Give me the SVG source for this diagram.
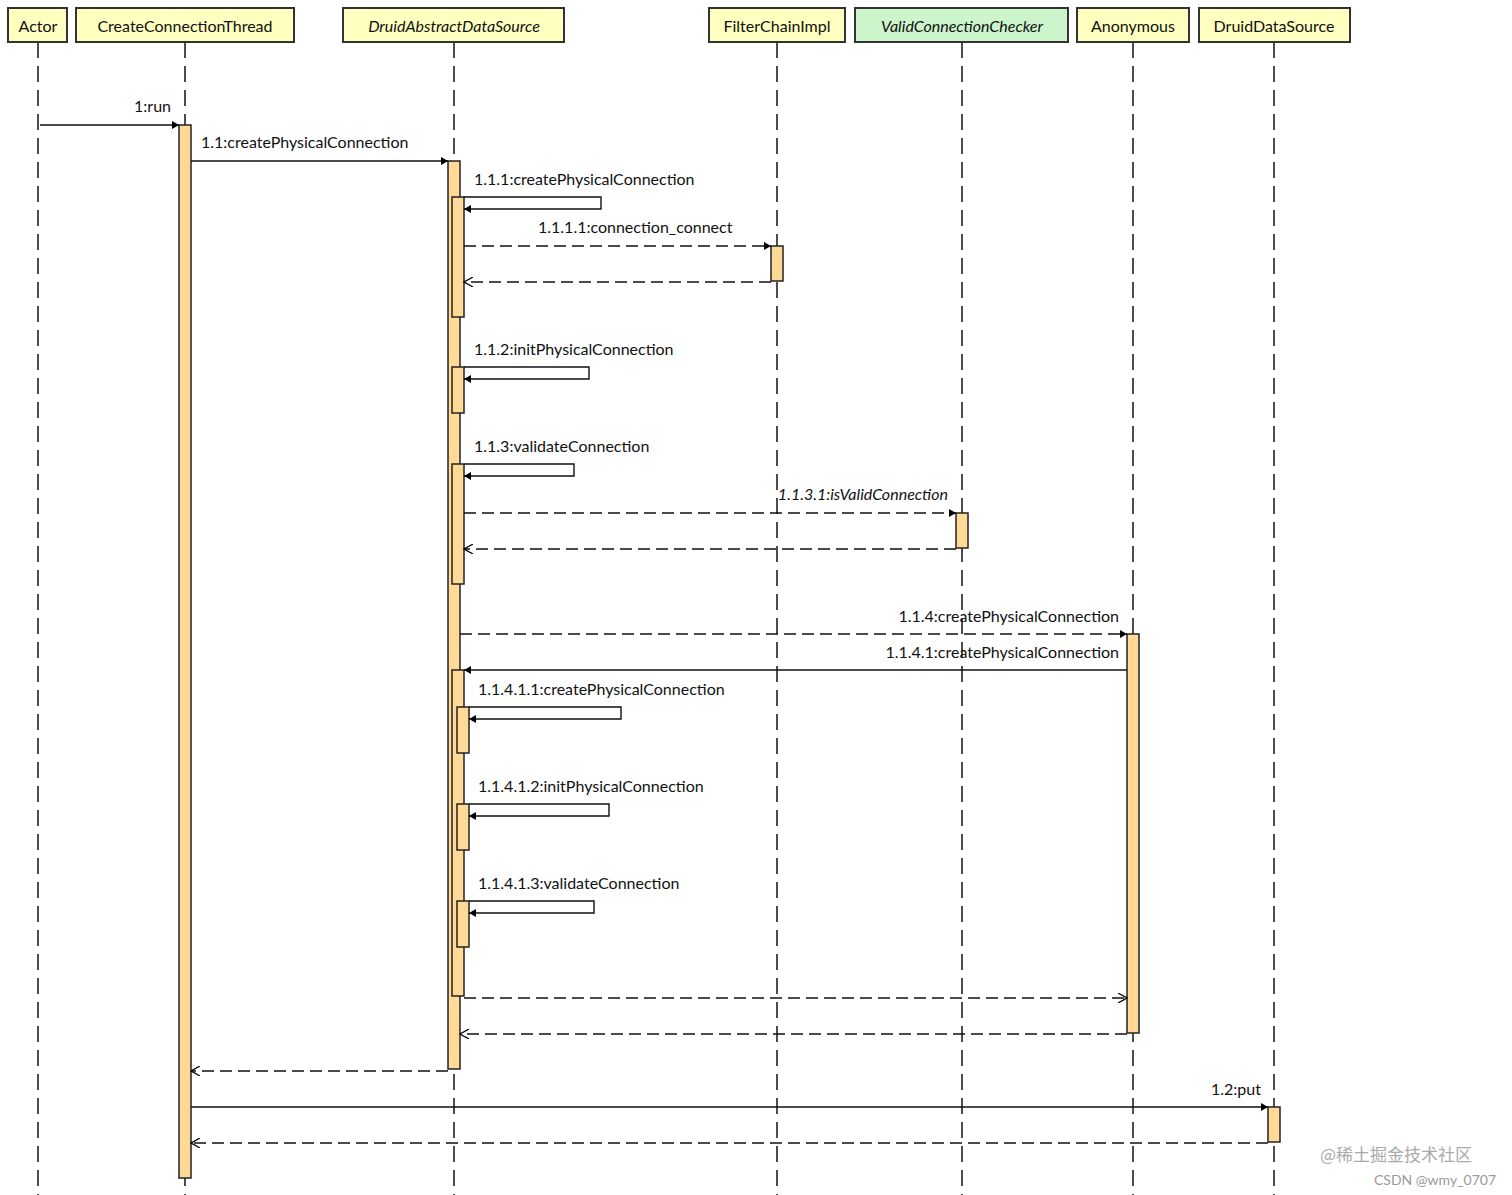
<svg xmlns="http://www.w3.org/2000/svg" width="1512" height="1195" viewBox="0 0 1512 1195">
<defs>
<marker id="f" markerWidth="8" markerHeight="8" refX="7" refY="4" orient="auto" markerUnits="userSpaceOnUse"><path d="M0,0 L7,4 L0,8 z" fill="#000"/></marker>
<marker id="o" markerWidth="10" markerHeight="10" refX="9" refY="5" orient="auto" markerUnits="userSpaceOnUse"><path d="M0,0 L9,5 L0,10" fill="none" stroke="#000" stroke-width="1.2"/></marker>
</defs>
<style>
text{font-family:"Lato","Liberation Sans",sans-serif;font-size:16px;fill:#111}
.h{fill:#ffffc0;stroke:#333;stroke-width:2}
.ll{stroke:#222;stroke-width:1.6;stroke-dasharray:16 8;fill:none}
.a{fill:#ffd995;stroke:#222;stroke-width:1.5}
.s{stroke:#111;stroke-width:1.4;fill:none}
.d{stroke:#111;stroke-width:1.4;fill:none;stroke-dasharray:12 6}
.c{text-anchor:middle}
.e{text-anchor:end}
</style>
<g id="lifelines">
<line class="ll" x1="38" y1="42" x2="38" y2="1195"/>
<line class="ll" x1="185" y1="42" x2="185" y2="1195"/>
<line class="ll" x1="454" y1="42" x2="454" y2="1195"/>
<line class="ll" x1="777" y1="42" x2="777" y2="1195"/>
<line class="ll" x1="962" y1="42" x2="962" y2="1195"/>
<line class="ll" x1="1133" y1="42" x2="1133" y2="1195"/>
<line class="ll" x1="1274" y1="42" x2="1274" y2="1195"/>
</g>
<g id="n-actor"><rect class="h" x="8" y="8" width="59" height="34"/><text class="c" x="38" y="32">Actor</text></g>
<g id="n-cct"><rect class="h" x="76" y="8" width="218" height="34"/><text class="c" x="185" y="32">CreateConnectionThread</text></g>
<g id="n-dads"><rect class="h" x="343" y="8" width="221" height="34"/><text class="c" x="454" y="32" font-style="italic">DruidAbstractDataSource</text></g>
<g id="n-fci"><rect class="h" x="709" y="8" width="136" height="34"/><text class="c" x="777" y="32">FilterChainImpl</text></g>
<g id="n-vcc"><rect class="h" x="855" y="8" width="213" height="34" style="fill:#ccf5cc"/><text class="c" x="962" y="32" font-style="italic">ValidConnectionChecker</text></g>
<g id="n-anon"><rect class="h" x="1077" y="8" width="112" height="34"/><text class="c" x="1133" y="32">Anonymous</text></g>
<g id="n-dds"><rect class="h" x="1199" y="8" width="151" height="34"/><text class="c" x="1274" y="32">DruidDataSource</text></g>
<g id="activations">
<rect class="a" x="179" y="125" width="12" height="1053"/>
<rect class="a" x="448" y="161" width="12" height="908"/>
<rect class="a" x="452" y="197" width="12" height="120"/>
<rect class="a" x="771" y="246" width="12" height="35"/>
<rect class="a" x="452" y="367" width="12" height="46"/>
<rect class="a" x="452" y="464" width="12" height="120"/>
<rect class="a" x="956" y="513" width="12" height="35"/>
<rect class="a" x="1127" y="634" width="12" height="399"/>
<rect class="a" x="452" y="670" width="12" height="326"/>
<rect class="a" x="457" y="707" width="12" height="46"/>
<rect class="a" x="457" y="804" width="12" height="46"/>
<rect class="a" x="457" y="901" width="12" height="46"/>
<rect class="a" x="1268" y="1107" width="12" height="35"/>
</g>
<g id="connectors">
<line class="s" x1="40" y1="125" x2="179" y2="125" marker-end="url(#f)"/>
<line class="s" x1="191" y1="161" x2="448" y2="161" marker-end="url(#f)"/>
<polyline class="s" points="464,197 601,197 601,209 464,209" marker-end="url(#f)"/>
<line class="d" x1="464" y1="246" x2="771" y2="246" marker-end="url(#f)"/>
<line class="d" x1="771" y1="282" x2="464" y2="282" marker-end="url(#o)"/>
<polyline class="s" points="464,367 589,367 589,379 464,379" marker-end="url(#f)"/>
<polyline class="s" points="464,464 574,464 574,476 464,476" marker-end="url(#f)"/>
<line class="d" x1="464" y1="513" x2="956" y2="513" marker-end="url(#f)"/>
<line class="d" x1="956" y1="549" x2="464" y2="549" marker-end="url(#o)"/>
<line class="d" x1="460" y1="634" x2="1127" y2="634" marker-end="url(#f)"/>
<line class="s" x1="1127" y1="670" x2="464" y2="670" marker-end="url(#f)"/>
<polyline class="s" points="469,707 621,707 621,719 469,719" marker-end="url(#f)"/>
<polyline class="s" points="469,804 609,804 609,816 469,816" marker-end="url(#f)"/>
<polyline class="s" points="469,901 594,901 594,913 469,913" marker-end="url(#f)"/>
<line class="d" x1="464" y1="998" x2="1127" y2="998" marker-end="url(#o)"/>
<line class="d" x1="1127" y1="1034" x2="460" y2="1034" marker-end="url(#o)"/>
<line class="d" x1="448" y1="1071" x2="191" y2="1071" marker-end="url(#o)"/>
<line class="s" x1="191" y1="1107" x2="1268" y2="1107" marker-end="url(#f)"/>
<line class="d" x1="1268" y1="1143" x2="191" y2="1143" marker-end="url(#o)"/>
</g>
<g id="labels">
<text class="e" x="171" y="112">1:run</text>
<text x="201" y="148">1.1:createPhysicalConnection</text>
<text x="474" y="185">1.1.1:createPhysicalConnection</text>
<text x="538" y="233">1.1.1.1:connection_connect</text>
<text x="474" y="355">1.1.2:initPhysicalConnection</text>
<text x="474" y="452">1.1.3:validateConnection</text>
<text class="e" x="948" y="500" font-style="italic">1.1.3.1:isValidConnection</text>
<text class="e" x="1119" y="622">1.1.4:createPhysicalConnection</text>
<text class="e" x="1119" y="658">1.1.4.1:createPhysicalConnection</text>
<text x="478" y="695">1.1.4.1.1:createPhysicalConnection</text>
<text x="478" y="792">1.1.4.1.2:initPhysicalConnection</text>
<text x="478" y="889">1.1.4.1.3:validateConnection</text>
<text class="e" x="1261" y="1095">1.2:put</text>
<text x="1320" y="1161" style="fill:#aaa;font-size:17px;font-family:'Noto Sans CJK SC',sans-serif">@稀土掘金技术社区</text>
<text x="1374" y="1185" style="fill:#999;font-size:14px">CSDN @wmy_0707</text>
</g>
</svg>
